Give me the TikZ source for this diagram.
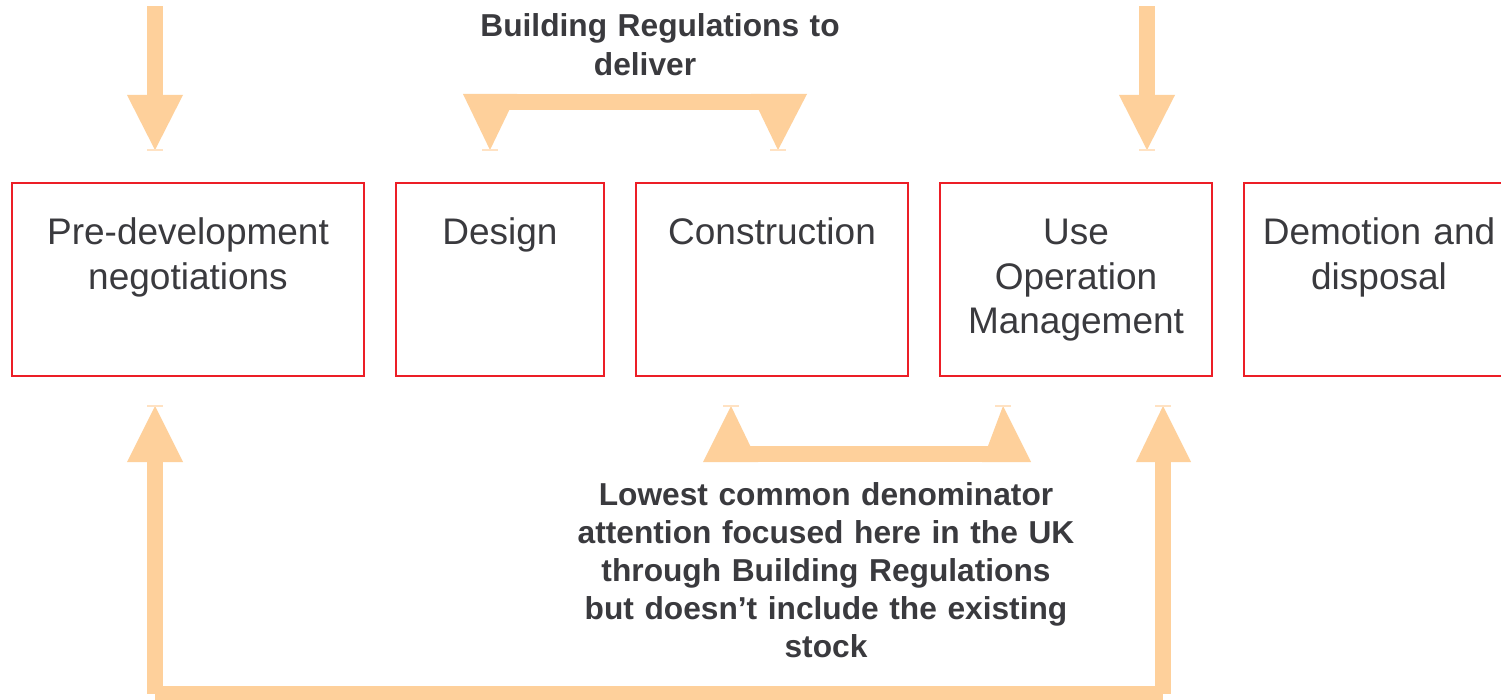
\documentclass[tikz,border=0pt]{standalone}
\usepackage{fontspec}
\setmainfont{Liberation Sans}
\usetikzlibrary{calc}
\definecolor{peach}{RGB}{254,208,155}
\definecolor{peachlight}{RGB}{255,226,195}
\definecolor{boxred}{RGB}{236,30,38}
\definecolor{txt}{RGB}{58,58,62}
\tikzset{
  stagebox/.style={draw=boxred, line width=2pt, fill=white, rectangle, inner sep=0pt, minimum height=193pt, anchor=north west},
  stagelbl/.style={text=txt, inner sep=0pt, anchor=base, align=center, text width=340pt, font=\fontsize{37}{44.5}\selectfont},
  note/.style={text=txt, inner sep=0pt, anchor=base, align=center, text width=520pt, font=\fontsize{31.7}{38.2}\selectfont\bfseries},
  blk/.style={fill=peach, draw=none},
  tick/.style={draw=peachlight, line width=1.5pt}
}
\begin{document}
\begin{tikzpicture}[x=1pt,y=-1pt]
\clip (0,0) rectangle (1501,700);
\fill[white] (0,0) rectangle (1501,700);

% stage boxes
\node[stagebox, minimum width=352pt] (b1) at (11,182) {};
\node[stagebox, minimum width=208pt] (b2) at (395,182) {};
\node[stagebox, minimum width=272pt] (b3) at (635,182) {};
\node[stagebox, minimum width=272pt] (b4) at (939,182) {};
\node[stagebox, minimum width=272pt] (b5) at (1243,182) {};

\node[stagelbl] (t1) at ($(b1.north)+(0,63)$) {Pre-development\\negotiations};
\node[stagelbl] (t2) at ($(b2.north)+(0,63)$) {Design};
\node[stagelbl] (t3) at ($(b3.north)+(0,63)$) {Construction};
\node[stagelbl] (t4) at ($(b4.north)+(0,63)$) {Use\\Operation\\Management};
\node[stagelbl] (t5) at ($(b5.north)+(-1,63)$) {Demotion and\\disposal};

% named arrow tips
\coordinate (tipA) at (155,150);
\coordinate (tipB) at (490,150);
\coordinate (tipC) at (778,150);
\coordinate (tipD) at (1147,150);
\coordinate (tipE) at (731,406);
\coordinate (tipF) at (1003,406);
\coordinate (tipG) at (155,406);
\coordinate (tipH) at (1163,406);

% top-left down arrow
\fill[blk] ($(tipA)+(-8,-144)$) rectangle ($(tipA)+(8,-54)$);
\fill[blk] ($(tipA)+(-28,-55)$) -- ($(tipA)+(28,-55)$) -- (tipA) -- cycle;
\draw[tick] ($(tipA)+(-8,0)$) -- ($(tipA)+(8,0)$);

% top-right down arrow
\fill[blk] ($(tipD)+(-8,-144)$) rectangle ($(tipD)+(8,-54)$);
\fill[blk] ($(tipD)+(-28,-55)$) -- ($(tipD)+(28,-55)$) -- (tipD) -- cycle;
\draw[tick] ($(tipD)+(-8,0)$) -- ($(tipD)+(8,0)$);

% top bracket arrow (Design <-> Construction)
\fill[blk] ($(tipB)+(0,-56)$) rectangle ($(tipC)+(0,-40)$);
\fill[blk] ($(tipB)+(-27,-56)$) -- ($(tipB)+(27,-56)$) -- (tipB) -- cycle;
\fill[blk] ($(tipC)+(-27,-56)$) -- ($(tipC)+(29,-56)$) -- (tipC) -- cycle;
\draw[tick] ($(tipB)+(-8,0)$) -- ($(tipB)+(8,0)$);
\draw[tick] ($(tipC)+(-8,0)$) -- ($(tipC)+(8,0)$);

% bottom bracket arrow (Construction <-> Use)
\fill[blk] ($(tipE)+(0,40)$) rectangle ($(tipF)+(0,56)$);
\fill[blk] ($(tipE)+(-28,56)$) -- ($(tipE)+(27,56)$) -- (tipE) -- cycle;
\fill[blk] ($(tipF)+(-21,56)$) -- ($(tipF)+(28,56)$) -- (tipF) -- cycle;
\draw[tick] ($(tipE)+(-8,0)$) -- ($(tipE)+(8,0)$);
\draw[tick] ($(tipF)+(-8,0)$) -- ($(tipF)+(8,0)$);

% big bottom loop arrow
\fill[blk] ($(tipG)+(-8,55)$) rectangle ($(tipG)+(8,288)$);
\fill[blk] ($(tipH)+(-8,55)$) rectangle ($(tipH)+(8,288)$);
\fill[blk] ($(tipG)+(0,280)$) rectangle ($(tipH)+(0,296)$);
\fill[blk] ($(tipG)+(-28,56)$) -- ($(tipG)+(28,56)$) -- (tipG) -- cycle;
\fill[blk] ($(tipH)+(-27,56)$) -- ($(tipH)+(28,56)$) -- (tipH) -- cycle;
\draw[tick] ($(tipG)+(-8,0)$) -- ($(tipG)+(8,0)$);
\draw[tick] ($(tipH)+(-8,0)$) -- ($(tipH)+(8,0)$);

% notes
\node[note] (n1) at (660,37) {Building Regulations to\\deliver\hspace*{30pt}};
\node[note] (n2) at (826,505) {Lowest common denominator\\attention focused here in the UK\\through Building Regulations\\but doesn’t include the existing\\stock};
\end{tikzpicture}
\end{document}
